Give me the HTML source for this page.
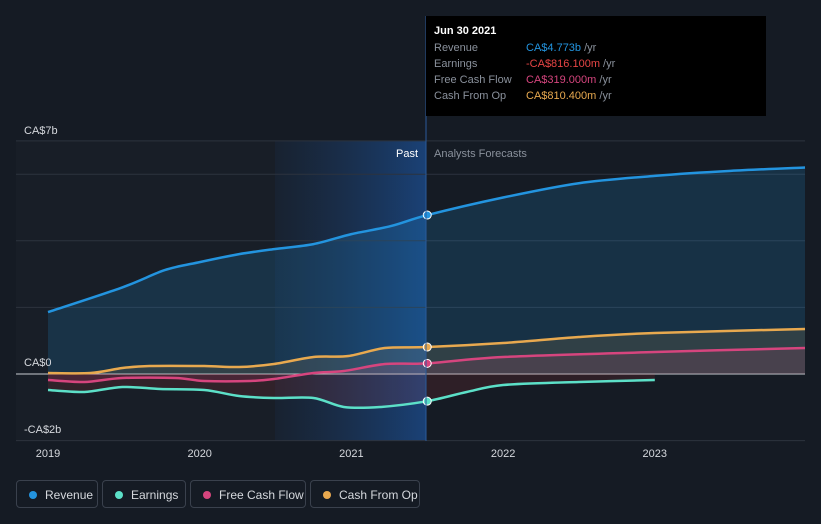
<!DOCTYPE html>
<html><head><meta charset="utf-8"><style>
body{margin:0;background:#151b24;font-family:"Liberation Sans",sans-serif;}
svg text{font-family:"Liberation Sans",sans-serif;}
.leg{position:absolute;top:480px;height:28px;border:1px solid #3a414d;border-radius:4px;color:#d5d8dd;font-size:12px;line-height:28px;box-sizing:border-box;padding-left:28px;}
.leg i{position:absolute;left:12px;top:10px;width:8px;height:8px;border-radius:50%;}
</style></head><body>
<div style="position:relative;width:821px;height:524px;overflow:hidden">
<svg id="c" width="821" height="524" style="position:absolute;left:0;top:0">
<defs>
<linearGradient id="band" x1="0" x2="1"><stop offset="0" stop-color="#1a3a66" stop-opacity="0.15"/><stop offset="1" stop-color="#1a4a8a" stop-opacity="0.8"/></linearGradient>
</defs>
<rect x="16" y="141" width="410" height="300" fill="#181e27"/>
<rect x="275" y="141" width="151" height="300" fill="url(#band)"/>
<g id="grid"></g><g id="areas"></g><g id="lines"></g><g id="dots"></g><g id="axis"></g>
<line x1="426" y1="16" x2="426" y2="441" stroke="#2a5a9a" stroke-width="1"/>
<text x="418" y="157" fill="#fff" font-size="11" text-anchor="end">Past</text>
<text x="434" y="157" fill="#8a919c" font-size="11">Analysts Forecasts</text>
<text x="24" y="134" fill="#d5d8dd" font-size="11">CA$7b</text>
<text x="24" y="366" fill="#d5d8dd" font-size="11">CA$0</text>
<text x="24" y="433" fill="#d5d8dd" font-size="11">-CA$2b</text>
</svg>
<div style="position:absolute;left:426px;top:16px;width:340px;height:100px;background:#000;font-size:11px;color:#8a919c">
<div style="position:absolute;left:8px;top:9px;color:#fff;font-weight:bold">Jun 30 2021</div>
<div style="position:absolute;left:8px;top:26px">Revenue</div><div style="position:absolute;left:100px;top:26px"><span style="color:#2394df">CA$4.773b</span> /yr</div>
<div style="position:absolute;left:8px;top:42px">Earnings</div><div style="position:absolute;left:100px;top:42px"><span style="color:#e64545">-CA$816.100m</span> /yr</div>
<div style="position:absolute;left:8px;top:58px">Free Cash Flow</div><div style="position:absolute;left:100px;top:58px"><span style="color:#d6457e">CA$319.000m</span> /yr</div>
<div style="position:absolute;left:8px;top:74px">Cash From Op</div><div style="position:absolute;left:100px;top:74px"><span style="color:#e8a94f">CA$810.400m</span> /yr</div>
</div>
<div class="leg" style="left:16px;width:82px"><i style="background:#2394df"></i>Revenue</div>
<div class="leg" style="left:102px;width:84px"><i style="background:#5ce0c8"></i>Earnings</div>
<div class="leg" style="left:190px;width:116px"><i style="background:#d6457e"></i>Free Cash Flow</div>
<div class="leg" style="left:310px;width:110px"><i style="background:#e8a94f"></i>Cash From Op</div>
</div>
<script>
const revX=[2019,2019.49,2019.77,2020,2020.26,2020.49,2020.75,2021,2021.26,2021.5,2022,2022.5,2023,2023.5,2024];
const revV=[1.86,2.6,3.12,3.36,3.6,3.75,3.9,4.2,4.44,4.773,5.3,5.73,5.95,6.1,6.2];
const earnX=[2019,2019.24,2019.49,2019.74,2020.03,2020.26,2020.49,2020.75,2020.95,2021.19,2021.5,2021.76,2022,2022.5,2023];
const earnV=[-0.48,-0.54,-0.39,-0.45,-0.48,-0.66,-0.72,-0.72,-0.99,-0.99,-0.816,-0.54,-0.33,-0.24,-0.18];
const fcfX=[2019,2019.24,2019.49,2019.84,2020.03,2020.33,2020.49,2020.75,2020.95,2021.22,2021.5,2022,2023,2024];
const fcfV=[-0.18,-0.24,-0.12,-0.12,-0.21,-0.21,-0.15,0.03,0.09,0.3,0.319,0.51,0.66,0.78];
const cfoX=[2019,2019.28,2019.49,2019.67,2020.03,2020.26,2020.49,2020.75,2020.98,2021.22,2021.5,2022,2022.5,2023,2024];
const cfoV=[0.03,0.03,0.18,0.24,0.24,0.21,0.3,0.51,0.54,0.78,0.8104,0.93,1.11,1.23,1.35];
const xTicks=[2019,2020,2021,2022,2023];
const yGrid=[7,6,4,2,0,-2];
const sx=y=>48+(y-2019)*151.7, sy=v=>374-v*33.3;
const NS='http://www.w3.org/2000/svg';
function mk(tag,attrs,parent){const e=document.createElementNS(NS,tag);for(const k in attrs)e.setAttribute(k,attrs[k]);document.getElementById(parent).appendChild(e);return e;}
function clip(x){return Math.min(x,805);}
yGrid.forEach(v=>{const l=mk('line',{x1:16,x2:805,y1:sy(v),y2:sy(v),stroke:v===0?'#c8ccd2':'#2c333e','stroke-width':1},'grid');

});
xTicks.forEach(t=>{const tx=mk('text',{x:sx(t),y:457,fill:'#d5d8dd','font-size':11,'text-anchor':'middle'},'axis');tx.textContent=t;

});
function path(X,V){
const P=X.map((x,i)=>[clip(sx(x)),sy(V[i])]);
let d='M'+P[0][0].toFixed(1)+','+P[0][1].toFixed(1);
for(let i=0;i<P.length-1;i++){
const p0=P[i-1]||P[i],p1=P[i],p2=P[i+1],p3=P[i+2]||p2,t=0.15;
const c1=[p1[0]+(p2[0]-p0[0])*t,p1[1]+(p2[1]-p0[1])*t];
const c2=[p2[0]-(p3[0]-p1[0])*t,p2[1]-(p3[1]-p1[1])*t];
d+=` C${c1[0].toFixed(1)},${c1[1].toFixed(1)} ${c2[0].toFixed(1)},${c2[1].toFixed(1)} ${p2[0].toFixed(1)},${p2[1].toFixed(1)}`;}
return d;}
const series=[['revenue',revX,revV,'#2394df','rgba(35,148,223,0.18)'],['earnings',earnX,earnV,'#5ce0c8','rgba(230,69,69,0.12)'],['free-cash-flow',fcfX,fcfV,'#d6457e','rgba(214,69,126,0.15)'],['cash-from-op',cfoX,cfoV,'#e8a94f','rgba(232,169,79,0.12)']];
series.forEach(([n,X,V,c,f])=>{
const d=path(X,V);
const a=mk('path',{d:d+` L${clip(sx(X[X.length-1]))},374 L${sx(X[0])},374 Z`,fill:f},'areas');


const l=mk('path',{d:d,fill:'none',stroke:c,'stroke-width':2.5,'stroke-linejoin':'round'},'lines');


const i=X.indexOf(2021.5);
const p=mk('circle',{cx:sx(2021.5),cy:sy(V[i]),r:4,fill:c,stroke:'#fff','stroke-width':1},'dots');


});
</script>
</body></html>
